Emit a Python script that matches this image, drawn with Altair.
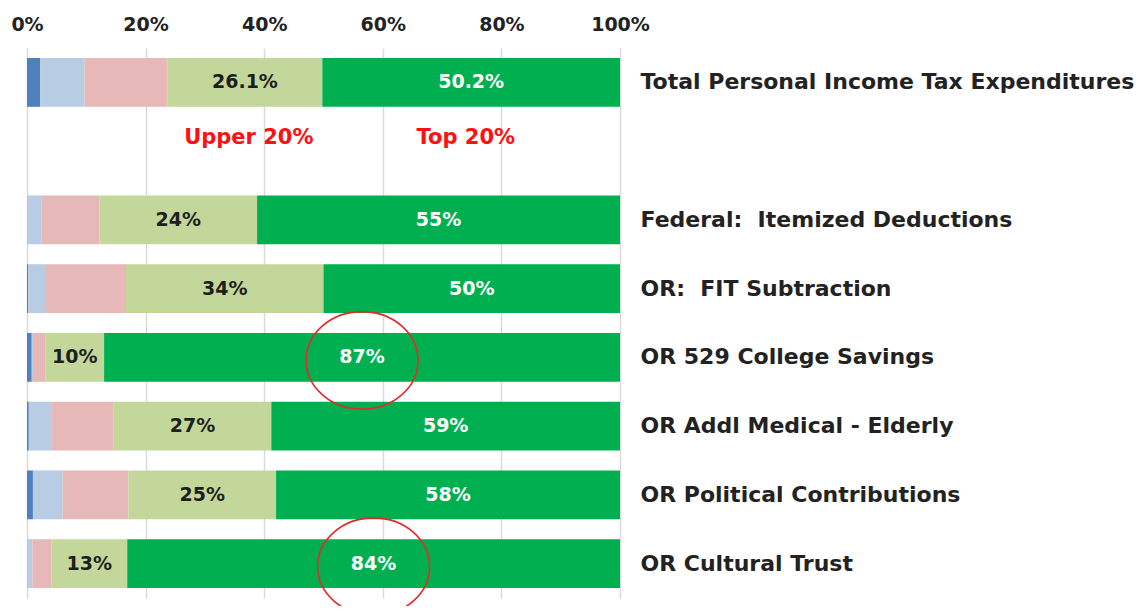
import altair as alt
import pandas as pd

# ---- data ----
categories = [
    "Total Personal Income Tax Expenditures",
    " ",
    "Federal:\u00a0 Itemized Deductions",
    "OR:\u00a0 FIT Subtraction",
    "OR 529 College Savings",
    "OR Addl Medical - Elderly",
    "OR Political Contributions",
    "OR Cultural Trust",
]
bar_rows = [c for c in categories if c != " "]

quintiles = ["Lowest 20%", "Second 20%", "Middle 20%", "Upper 20%", "Top 20%"]
colors = ["#4f81bd", "#b8cce4", "#e6b8b7", "#c4d79b", "#00b050"]

lowest = [2.2, 0.0, 0.2, 0.8, 0.3, 1.0, 0.0]
second = [7.5, 2.5, 3.0, 0.2, 3.9, 5.0, 0.9]
middle = [14.0, 9.7, 13.5, 2.1, 10.4, 11.1, 3.2]
upper = [26.1, 26.6, 33.3, 9.9, 26.6, 24.9, 12.8]
top = [50.2, 61.2, 50.0, 87.0, 58.8, 58.0, 83.1]

upper_labels = ["26.1%", "24%", "34%", "10%", "27%", "25%", "13%"]
top_labels = ["50.2%", "55%", "50%", "87%", "59%", "58%", "84%"]

tick_values = [0, 20, 40, 60, 80, 100]

annot_text = ["Upper 20%", "Top 20%"]
annot_x = [37.4, 74.0]

circled_rows = ["OR 529 College Savings", "OR Cultural Trust"]

# ---- build tables ----
series = [lowest, second, middle, upper, top]
recs = []
labs = []
for i, cat in enumerate(bar_rows):
    start = 0.0
    for q, vals in zip(quintiles, series):
        end = start + vals[i]
        recs.append({"cat": cat, "q": q, "start": start, "end": end})
        if q == "Upper 20%":
            labs.append({"cat": cat, "mid": (start + end) / 2, "txt": upper_labels[i], "kind": "upper"})
        if q == "Top 20%":
            labs.append({"cat": cat, "mid": (start + end) / 2, "txt": top_labels[i], "kind": "top"})
        start = end
bars_df = pd.DataFrame(recs)
labs_df = pd.DataFrame(labs)
upper_df = labs_df[labs_df["kind"] == "upper"]
top_df = labs_df[labs_df["kind"] == "top"]
circ_df = top_df[top_df["cat"].isin(circled_rows)]
annot_df = pd.DataFrame({"cat": [" ", " "], "x": annot_x, "txt": annot_text})

FONT = "DejaVu Sans"

x_scale = alt.Scale(domain=[0, 100], nice=False, zero=True)
x_axis = alt.Axis(
    orient="top", values=tick_values, labelExpr="datum.value + '%'",
    grid=True, gridColor="#d9d9d9", gridWidth=1.5, ticks=False, domain=False,
    labelFont=FONT, labelFontSize=19, labelFontWeight="bold", labelColor="#222222",
    labelPadding=14, labelFlush=False, title=None,
)
y_scale = alt.Scale(domain=categories, paddingInner=0.29, paddingOuter=0.145)
y_axis = alt.Axis(
    orient="right", ticks=False, domain=False, grid=False,
    labelFont=FONT, labelFontSize=22, labelFontWeight="bold", labelColor="#222222",
    labelPadding=20, labelLimit=700, labelAlign="left", title=None,
)

bars = alt.Chart(bars_df).mark_bar().encode(
    x=alt.X("start:Q", scale=x_scale, axis=x_axis),
    x2="end:Q",
    y=alt.Y("cat:N", scale=y_scale, axis=y_axis, sort=None),
    color=alt.Color("q:N", scale=alt.Scale(domain=quintiles, range=colors), legend=None),
)

upper_text = alt.Chart(upper_df).mark_text(
    font=FONT, fontSize=19, fontWeight="bold", baseline="middle", align="center", color="#1e1e1e"
).encode(
    x=alt.X("mid:Q", scale=x_scale, axis=x_axis),
    y=alt.Y("cat:N", scale=y_scale, axis=y_axis, sort=None),
    text="txt:N",
)

top_text = alt.Chart(top_df).mark_text(
    font=FONT, fontSize=19, fontWeight="bold", baseline="middle", align="center", color="#ffffff"
).encode(
    x=alt.X("mid:Q", scale=x_scale, axis=x_axis),
    y=alt.Y("cat:N", scale=y_scale, axis=y_axis, sort=None),
    text="txt:N",
)

ellipse = "M-1,0A1,0.87 0 1,1 1,0A1,0.87 0 1,1 -1,0Z"
circles = alt.Chart(circ_df).mark_point(
    shape=ellipse, size=112 * 112, filled=False, color="#e02b2b", strokeWidth=1.6, opacity=1, yOffset=3
).encode(
    x=alt.X("mid:Q", scale=x_scale, axis=x_axis),
    y=alt.Y("cat:N", scale=y_scale, axis=y_axis, sort=None),
)

annots = alt.Chart(annot_df).mark_text(
    font=FONT, fontSize=21, fontWeight="bold", color="#ff1010", dy=-13, baseline="middle", align="center"
).encode(
    x=alt.X("x:Q", scale=x_scale, axis=x_axis),
    y=alt.Y("cat:N", scale=y_scale, axis=y_axis, sort=None),
    text="txt:N",
)

chart = alt.layer(bars, upper_text, top_text, circles, annots).properties(
    width=593, height=550,
    autosize=alt.AutoSizeParams(type="none"),
    padding={"left": 19, "top": 40, "right": 515, "bottom": 8},
).configure_view(stroke=None)

chart.save("out.html", embed_options={"renderer": "svg", "actions": False})
